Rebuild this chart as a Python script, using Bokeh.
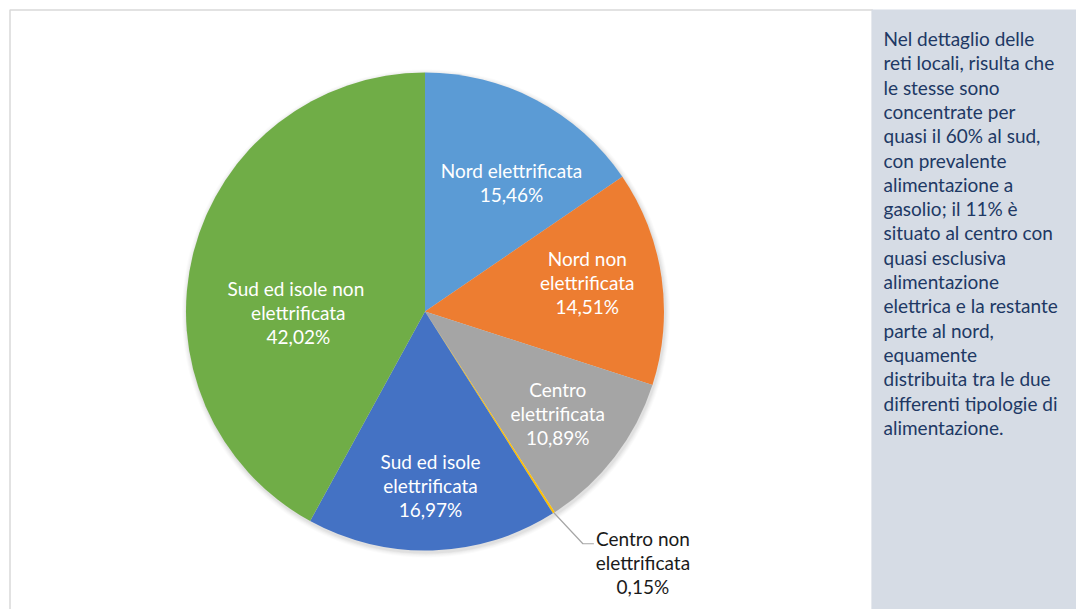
import math
from bokeh.plotting import figure
from bokeh.models import Range1d, ColumnDataSource
from bokeh.core.properties import value
from bokeh.embed import file_html
from bokeh.resources import INLINE

# ---- data ----
categories = ["Nord elettrificata", "Nord non elettrificata", "Centro elettrificata",
              "Centro non elettrificata", "Sud ed isole elettrificata",
              "Sud ed isole non elettrificata"]
shares = [15.46, 14.51, 10.89, 0.15, 16.97, 42.02]
label_lines = [["Nord elettrificata", "15,46%"],
               ["Nord non", "elettrificata", "14,51%"],
               ["Centro", "elettrificata", "10,89%"],
               ["Centro non", "elettrificata", "0,15%"],
               ["Sud ed isole", "elettrificata", "16,97%"],
               ["Sud ed isole  non", "elettrificata", "42,02%"]]
colors = ["#5B9BD5", "#ED7D31", "#A5A5A5", "#FFC000", "#4472C4", "#70AD47"]
note_lines = ["Nel dettaglio delle", "reti locali, risulta che", "le stesse sono",
              "concentrate per", "quasi il 60% al sud,", "con prevalente",
              "alimentazione a", "gasolio; il 11% è", "situato al centro con",
              "quasi esclusiva", "alimentazione", "elettrica e la restante",
              "parte al nord,", "equamente", "distribuita tra le due",
              "differenti tipologie di", "alimentazione."]

# ---- layout (screen-pixel data units) ----
W, H = 1076, 609
def X(sx): return sx
def Y(sy): return H - sy

FONT = "Lato"
FS = "19px"
cx, cy, R = X(424.5), Y(311), 239
# per-slice label placement: (radius fraction, angle tweak in degrees)
label_place = [(0.65, 6), (0.69, -2), (0.70, 0), None, (0.73, 0), (0.53, -15)]
LINE_H = 24

p = figure(width=W, height=H, output_backend="svg", toolbar_location=None,
           x_range=Range1d(0, W), y_range=Range1d(0, H), min_border=0)
p.axis.visible = False
p.grid.visible = False
p.outline_line_color = None
p.background_fill_color = "white"
p.border_fill_color = "white"

# chart frame
p.quad(left=[X(9.5)], right=[X(872)], bottom=[Y(620)], top=[Y(9.5)],
       fill_color="white", line_color="#D9D9D9", line_width=1.5)
# side panel
p.quad(left=[X(871)], right=[X(1080)], bottom=[Y(620)], top=[Y(9)],
       fill_color="#D6DCE5", line_color=None)

# soft shadow
for k, a in [(5, 0.03), (4, 0.04), (3, 0.05), (2, 0.06), (1, 0.08)]:
    p.circle(x=[cx + 1], y=[cy - 2], radius=R + k, fill_color="#808080",
             fill_alpha=a, line_color=None)

# wedges: clockwise from 12 o'clock
total = sum(shares)
cum = 0.0
starts, ends, mids = [], [], []
for s in shares:
    t1 = cum / total * 360.0
    cum += s
    t2 = cum / total * 360.0
    starts.append(math.radians(90 - t2))
    ends.append(math.radians(90 - t1))
    mids.append((t1 + t2) / 2.0)

src = ColumnDataSource(dict(x=[cx] * len(shares), y=[cy] * len(shares),
                            start=starts, end=ends, color=colors, cat=categories))
p.wedge(x="x", y="y", radius=R, start_angle="start", end_angle="end",
        direction="anticlock", fill_color="color", line_color=None, source=src)

# inside labels
for i, lines in enumerate(label_lines):
    if label_place[i] is None:
        continue
    rf, dt = label_place[i]
    th = math.radians(mids[i] + dt)
    lx = cx + rf * R * math.sin(th)
    ly = cy + rf * R * math.cos(th)
    n = len(lines)
    for j, t in enumerate(lines):
        yy = ly + ((n - 1) / 2.0 - j) * LINE_H
        p.text(x=[lx], y=[yy], text=[t], text_color="white",
               text_font=value(FONT), text_font_size=FS,
               text_align="center", text_baseline="middle")

# outside label for the tiny slice with leader line
i = 3
th = math.radians(mids[i])
ex, ey = cx + R * math.sin(th), cy + R * math.cos(th)
elbow_x, elbow_y = ex + 29, ey - 31
p.line(x=[ex, elbow_x, elbow_x + 11], y=[ey, elbow_y, elbow_y],
       line_color="#A6A6A6", line_width=1.2)
lx, ly = elbow_x + 60, elbow_y - 19
for j, t in enumerate(label_lines[i]):
    p.text(x=[lx], y=[ly + (1 - j) * LINE_H], text=[t], text_color="#1A1A1A",
           text_font=value(FONT), text_font_size=FS,
           text_align="center", text_baseline="middle")

# side note text
for j, t in enumerate(note_lines):
    p.text(x=[X(883)], y=[Y(38 + j * 24.3)], text=[t], text_color="#203864",
           text_font=value(FONT), text_font_size=FS,
           text_align="left", text_baseline="middle")

open("out.html", "w").write(file_html(p, INLINE))
